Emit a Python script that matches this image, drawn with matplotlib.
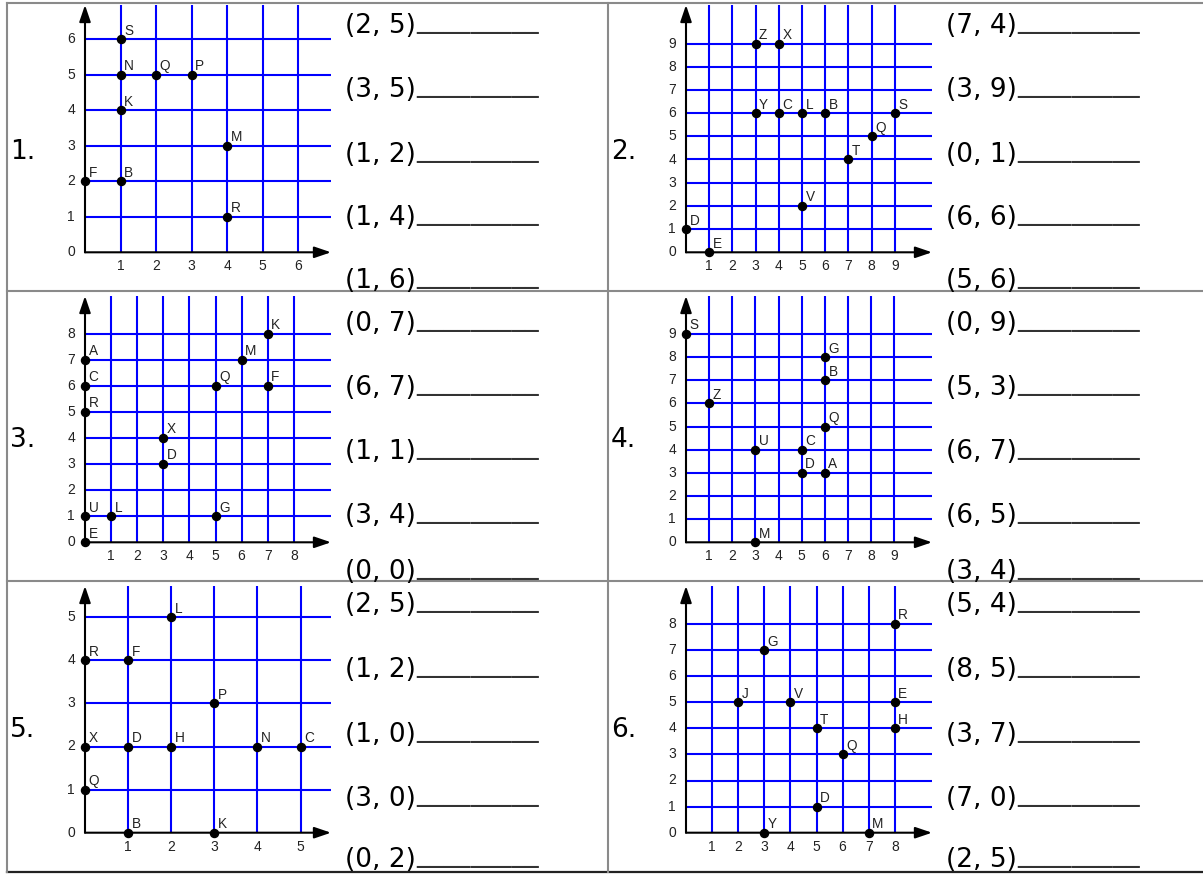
import matplotlib
matplotlib.use('Agg')
import matplotlib.pyplot as plt
from matplotlib.lines import Line2D

W, H = 1203, 874

# ---- data: points on each grid and the coordinate questions ----
p1_names = ['S', 'N', 'Q', 'P', 'K', 'M', 'F', 'B', 'R']
p1_x = [1, 1, 2, 3, 1, 4, 0, 1, 4]
p1_y = [6, 5, 5, 5, 4, 3, 2, 2, 1]
p1_ticks = 6
p1_questions = ['(2, 5)', '(3, 5)', '(1, 2)', '(1, 4)', '(1, 6)']

p2_names = ['Z', 'X', 'Y', 'C', 'L', 'B', 'S', 'Q', 'T', 'V', 'D', 'E']
p2_x = [3, 4, 3, 4, 5, 6, 9, 8, 7, 5, 0, 1]
p2_y = [9, 9, 6, 6, 6, 6, 6, 5, 4, 2, 1, 0]
p2_ticks = 9
p2_questions = ['(7, 4)', '(3, 9)', '(0, 1)', '(6, 6)', '(5, 6)']

p3_names = ['K', 'A', 'M', 'C', 'Q', 'F', 'R', 'X', 'D', 'U', 'L', 'G', 'E']
p3_x = [7, 0, 6, 0, 5, 7, 0, 3, 3, 0, 1, 5, 0]
p3_y = [8, 7, 7, 6, 6, 6, 5, 4, 3, 1, 1, 1, 0]
p3_ticks = 8
p3_questions = ['(0, 7)', '(6, 7)', '(1, 1)', '(3, 4)', '(0, 0)']

p4_names = ['S', 'G', 'B', 'Z', 'Q', 'U', 'C', 'D', 'A', 'M']
p4_x = [0, 6, 6, 1, 6, 3, 5, 5, 6, 3]
p4_y = [9, 8, 7, 6, 5, 4, 4, 3, 3, 0]
p4_ticks = 9
p4_questions = ['(0, 9)', '(5, 3)', '(6, 7)', '(6, 5)', '(3, 4)']

p5_names = ['L', 'R', 'F', 'P', 'X', 'D', 'H', 'N', 'C', 'Q', 'B', 'K']
p5_x = [2, 0, 1, 3, 0, 1, 2, 4, 5, 0, 1, 3]
p5_y = [5, 4, 4, 3, 2, 2, 2, 2, 2, 1, 0, 0]
p5_ticks = 5
p5_questions = ['(2, 5)', '(1, 2)', '(1, 0)', '(3, 0)', '(0, 2)']

p6_names = ['R', 'G', 'J', 'V', 'E', 'T', 'H', 'Q', 'D', 'Y', 'M']
p6_x = [8, 3, 2, 4, 8, 5, 8, 6, 5, 3, 7]
p6_y = [8, 7, 5, 5, 5, 4, 4, 3, 1, 0, 0]
p6_ticks = 8
p6_questions = ['(5, 4)', '(8, 5)', '(3, 7)', '(7, 0)', '(2, 5)']

panels = [
    (p1_names, p1_x, p1_y, p1_ticks, p1_questions),
    (p2_names, p2_x, p2_y, p2_ticks, p2_questions),
    (p3_names, p3_x, p3_y, p3_ticks, p3_questions),
    (p4_names, p4_x, p4_y, p4_ticks, p4_questions),
    (p5_names, p5_x, p5_y, p5_ticks, p5_questions),
    (p6_names, p6_x, p6_y, p6_ticks, p6_questions),
]

# ---- layout (pixels) ----
col_left = [7, 608]
row_top = [3, 291, 581]
origin_y = [252.3, 542.3, 832.7]
grid_top = [5, 296, 586]
unit_px = [35.5, 23.2, 26.1, 23.15, 43.1, 26.1]
text_baselines = [
    [33.3, 97.3, 161.7, 225, 288],
    [331, 395, 459, 523, 579],
    [612.3, 676.7, 741.7, 806, 866.7],
]

BLUE = '#0000ff'
BORDER = '#8a8a8a'
SMALL = dict(family='Liberation Sans', color='#222222', annotation_clip=False)


def fx(px):
    return px / W


def fy(py):
    return 1 - py / H


fig = plt.figure(figsize=(W / 100, H / 100), dpi=100)
fig.patch.set_facecolor('white')

for i, (names, xs, ys, n, questions) in enumerate(panels):
    row, col = divmod(i, 2)
    cx = col_left[col]
    oy = origin_y[row]
    ox = cx + 78
    width = 246
    height = oy - grid_top[row]
    ax = fig.add_axes([fx(ox), fy(oy), width / W, height / H])
    xmax = width / unit_px[i]
    ymax = height / unit_px[i]
    ax.set_xlim(0, xmax)
    ax.set_ylim(0, ymax)
    ax.axis('off')

    ticks = list(range(1, n + 1))
    ax.vlines(ticks, 0, ymax, color=BLUE, lw=1.5, clip_on=False)
    ax.hlines(ticks, 0, xmax, color=BLUE, lw=1.5, clip_on=False)

    arrow = dict(arrowstyle='-|>,head_length=0.5,head_width=0.17',
                 color='black', lw=1.5, mutation_scale=20,
                 shrinkA=0, shrinkB=0)
    ax.annotate('', xy=(xmax, 0), xytext=(0, 0), arrowprops=arrow,
                annotation_clip=False)
    ax.annotate('', xy=(0, ymax), xytext=(0, 0), arrowprops=arrow,
                annotation_clip=False)

    for v in [0] + ticks:
        ax.annotate(str(v), xy=(0, v), xytext=(-14, 0),
                    textcoords='offset pixels', ha='center', va='center',
                    fontsize=10, **SMALL)
    for v in ticks:
        ax.annotate(str(v), xy=(v, 0), xytext=(0, -14),
                    textcoords='offset pixels', ha='center', va='center',
                    fontsize=10, **SMALL)

    ax.plot(xs, ys, 'o', color='black', ms=5.8, clip_on=False, zorder=5)
    for name, x, y in zip(names, xs, ys):
        ax.annotate(name, xy=(x, y), xytext=(3.5, 4.5),
                    textcoords='offset pixels', ha='left', va='baseline',
                    fontsize=9.8, **SMALL)

    # panel number
    fig.text(fx(cx + 3), fy(row_top[row] + 156), f'{i + 1}.',
             fontsize=19, family='DejaVu Sans', va='baseline', ha='left')

    # questions with blanks
    for q, base in zip(questions, text_baselines[row]):
        fig.text(fx(cx + 338), fy(base), q, fontsize=19,
                 family='DejaVu Sans', va='baseline', ha='left')
        fig.text(fx(cx + 409), fy(base - 5), '_' * 9, fontsize=19.5,
                 family='DejaVu Sans', va='baseline', ha='left',
                 color='#333333')

# table borders
for y in row_top:
    fig.add_artist(Line2D([fx(7), fx(W)], [fy(y), fy(y)], color=BORDER, lw=1.5))
fig.add_artist(Line2D([fx(7), fx(W)], [fy(871.5), fy(871.5)], color='#222222', lw=1.6))
for x in [7, 607.7]:
    fig.add_artist(Line2D([fx(x), fx(x)], [fy(3), fy(872)], color=BORDER, lw=1.5))

fig.savefig('out.png', dpi=100, facecolor='white')
